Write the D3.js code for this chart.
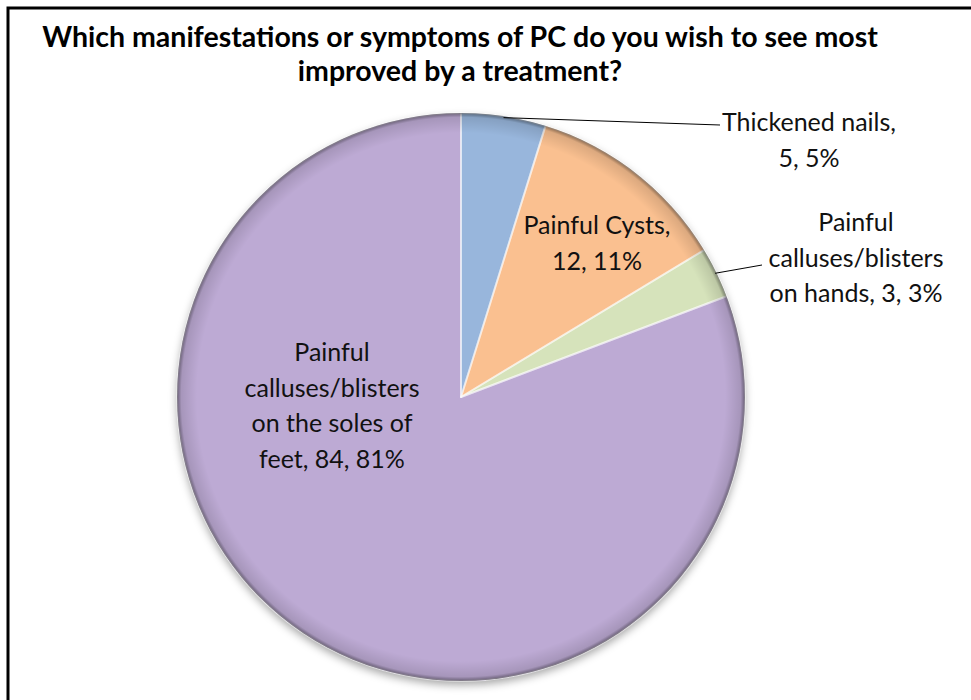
<!DOCTYPE html>
<html>
<head>
<meta charset="utf-8">
<script src="https://cdn.jsdelivr.net/npm/d3@7"></script>
<style>
  body { margin: 0; background: #fff; }
  svg { display: block; font-family: Lato, "Open Sans", sans-serif; }
</style>
</head>
<body>
<svg id="canvas"></svg>
<script>
// data
let categories = ['Thickened nails', 'Painful Cysts', 'Painful calluses/blisters on hands', 'Painful calluses/blisters on the soles of feet']
let counts = [5, 12, 3, 84]
let percents = ['5%', '11%', '3%', '81%']
let colors = ['#98b6dc', '#fac090', '#d6e3bb', '#bdaad4']
let labelLines = [
    ['Thickened nails,', '5, 5%'],
    ['Painful Cysts,', '12, 11%'],
    ['Painful', 'calluses/blisters', 'on hands, 3, 3%'],
    ['Painful', 'calluses/blisters', 'on the soles of', 'feet, 84, 81%']
]
let titleLines = ['Which manifestations or symptoms of PC do you wish to see most', 'improved by a treatment?']

const width = 971
const height = 700
const cx = 461
const cy = 397
const radius = 284

// label layout: centre x, first baseline y, and leader end (null = inside)
let labelPos = [
    {x: 809, y: 131, lead: [720, 125]},
    {x: 597, y: 234, lead: null},
    {x: 856, y: 231, lead: [762, 265]},
    {x: 332, y: 361, lead: null}
]

let svg = d3.select('#canvas')
    .attr('width', width)
    .attr('height', height)

let defs = svg.append('defs')

let shadow = defs.append('filter')
    .attr('id', 'shadow')
    .attr('x', '-20%').attr('y', '-20%')
    .attr('width', '140%').attr('height', '140%')
shadow.append('feDropShadow')
    .attr('dx', 0).attr('dy', 4)
    .attr('stdDeviation', 4)
    .attr('flood-color', '#000')
    .attr('flood-opacity', 0.35)

let rim = defs.append('radialGradient')
    .attr('id', 'rim')
    .attr('cx', '50%').attr('cy', '50%').attr('r', '50%')
rim.append('stop').attr('offset', '0.93').attr('stop-color', '#000').attr('stop-opacity', 0)
rim.append('stop').attr('offset', '0.985').attr('stop-color', '#000').attr('stop-opacity', 0.12)
rim.append('stop').attr('offset', '1').attr('stop-color', '#000').attr('stop-opacity', 0.45)

// frame (only left and top edges show)
svg.append('rect')
    .attr('x', 8).attr('y', 8)
    .attr('width', 1100).attr('height', 1100)
    .attr('fill', 'none')
    .attr('stroke', '#000')
    .attr('stroke-width', 3)

svg.append('text')
    .attr('x', 460)
    .attr('text-anchor', 'middle')
    .attr('font-weight', 'bold')
    .attr('font-size', 28.5)
    .attr('fill', '#000')
    .selectAll('tspan')
    .data(titleLines)
    .enter()
    .append('tspan')
    .attr('x', 460)
    .attr('y', (d, i) => 47 + i * 34)
    .text(d => d)

let data = categories.map((c, i) => ({name: c, value: counts[i], i: i}))

let pie = d3.pie()
    .sort(null)
    .value(d => d.value)

let arc = d3.arc()
    .innerRadius(0)
    .outerRadius(radius)

let arcs = pie(data)

let g = svg.append('g')
    .attr('transform', 'translate(' + cx + ',' + cy + ')')

let pieGroup = g.append('g').attr('filter', 'url(#shadow)')

pieGroup.selectAll('path.slice')
    .data(arcs)
    .enter()
    .append('path')
    .attr('class', 'slice')
    .attr('d', arc)
    .attr('fill', d => colors[d.data.i])

// soft highlight along slice edges
g.selectAll('path.edge')
    .data(arcs)
    .enter()
    .append('path')
    .attr('class', 'edge')
    .attr('d', arc)
    .attr('fill', 'none')
    .attr('stroke', '#fff')
    .attr('stroke-opacity', 0.45)
    .attr('stroke-width', 2)
    .attr('stroke-linejoin', 'round')

g.append('circle')
    .attr('r', radius)
    .attr('fill', 'url(#rim)')

// leader lines from outer edge at mid-angle
let edgeArc = d3.arc().innerRadius(radius * 1.99).outerRadius(0)

arcs.forEach((d) => {
    let p = labelPos[d.data.i]
    if (p.lead) {
        let c = edgeArc.centroid(d)
        g.append('line')
            .attr('x1', c[0]).attr('y1', c[1])
            .attr('x2', p.lead[0] - cx).attr('y2', p.lead[1] - cy)
            .attr('stroke', '#000')
            .attr('stroke-width', 1)
    }
})

arcs.forEach((d) => {
    let p = labelPos[d.data.i]
    svg.append('text')
        .attr('text-anchor', 'middle')
        .attr('font-size', 25)
        .attr('fill', '#111')
        .selectAll('tspan')
        .data(labelLines[d.data.i])
        .enter()
        .append('tspan')
        .attr('x', p.x)
        .attr('y', (t, k) => p.y + k * 35.5)
        .text(t => t)
})
</script>
</body>
</html>
